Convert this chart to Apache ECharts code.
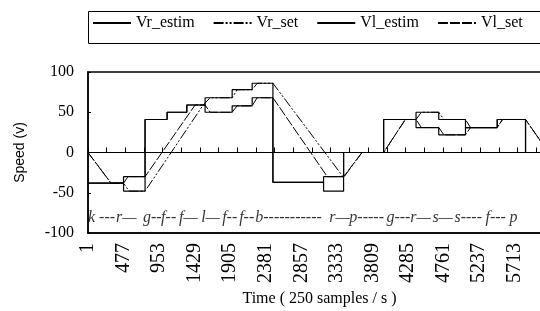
<!DOCTYPE html>
<html>
<head>
<meta charset="utf-8">
<script src="https://cdn.jsdelivr.net/npm/echarts@6/dist/echarts.min.js"></script>
<style>
  html, body { margin: 0; padding: 0; background: #fff; }
  #chart { width: 540px; height: 311px; }
</style>
</head>
<body>
<div id="chart"></div>
<script>
// speed command steps per wheel, [sample, speed]
var stepsR = [[1, -38], [477, -38], [477, -48], [765, -48], [765, 41], [1060, 41], [1060, 50], [1324, 50],
  [1324, 59], [1569, 59], [1569, 68], [1931, 68], [1931, 78], [2199, 78], [2199, 86], [2477, 86],
  [2477, -37], [3155, -37], [3155, -48], [3423, -48], [3423, 0], [3959, 0], [3959, 41], [4393, 41],
  [4393, 50], [4697, 50], [4697, 41], [5055, 41], [5055, 31], [5480, 31], [5480, 41], [5859, 41],
  [5859, 0], [6200, 0]];
var stepsL = [[1, -38], [477, -38], [477, -30], [765, -30], [765, 41], [1060, 41], [1060, 50], [1324, 50],
  [1324, 59], [1569, 59], [1569, 50], [1931, 50], [1931, 58], [2199, 58], [2199, 68], [2477, 68],
  [2477, -37], [3155, -37], [3155, -30], [3423, -30], [3423, 0], [3959, 0], [3959, 41], [4393, 41],
  [4393, 31], [4697, 31], [4697, 22], [5055, 22], [5055, 31], [5480, 31], [5480, 41], [5859, 41],
  [5859, 0], [6200, 0]];
// ramped speeds
var rampR = [[1, 0], [309, -38], [477, -38], [551, -48], [765, -48], [1543, 59], [1569, 59], [1636, 68],
  [1931, 68], [1998, 78], [2199, 78], [2266, 86], [2477, 86], [3423, -31], [3670, 0], [3959, 0],
  [4250, 41], [4393, 41], [4464, 50], [4697, 50], [4766, 41], [5055, 41], [5122, 31], [5480, 31],
  [5551, 41], [5859, 41], [6167, 0]];
var rampL = [[1, 0], [309, -38], [477, -38], [537, -30], [765, -30], [1435, 59], [1569, 59], [1636, 50],
  [1931, 50], [1998, 58], [2199, 58], [2266, 68], [2477, 68], [3205, -30], [3423, -30], [3670, 0],
  [3959, 0], [4250, 41], [4393, 41], [4464, 31], [4697, 31], [4766, 22], [5055, 22], [5122, 31],
  [5480, 31], [5551, 41], [5859, 41], [6167, 0]];

// tick labels on the time axis
var timeLabels = [1, 477, 953, 1429, 1905, 2381, 2857, 3333, 3809, 4285, 4761, 5237, 5713];

// command letters along the bottom
var cmdX = [1, 376, 738, 980, 1221, 1516, 1797, 2025, 2240, 3232, 3500, 3996, 4317, 4612, 4907, 5323, 5645];
var cmdText = ['k ---', 'r—', 'g--', 'f--', 'f—', 'l—', 'f--', 'f--', 'b-----------', 'r—', 'p-----',
  'g---', 'r—', 's—', 's----', 'f---', 'p'];
var cmdY = -81;

var serif = 'Liberation Serif';
var chart = echarts.init(document.getElementById('chart'));

var cmdData = [];
for (var i = 0; i < cmdX.length; i++) {
  cmdData.push({ value: [cmdX[i], cmdY], name: cmdText[i] });
}

chart.setOption({
  animation: false,
  graphic: [{
    // legend frame, runs off the right edge like the original
    type: 'rect',
    left: 86,
    top: 9,
    shape: { width: 480, height: 32 },
    style: { fill: 'none', stroke: '#000', lineWidth: 1 },
    silent: true
  }],
  legend: {
    data: ['Vr_estim', 'Vr_set', 'Vl_estim', 'Vl_set'],
    left: 88,
    top: 11,
    padding: [4, 4],
    itemGap: 18,
    itemWidth: 38,
    itemHeight: 10,
    itemStyle: { color: 'rgba(0,0,0,0)', borderWidth: 0 },
    textStyle: { fontFamily: serif, fontSize: 16, color: '#000' }
  },
  grid: {
    show: true,
    left: 88,
    top: 72,
    right: -11,
    bottom: 78,
    outerBoundsMode: 'none',
    containLabel: false,
    borderColor: '#000',
    borderWidth: 1.5
  },
  xAxis: [{
    type: 'value',
    min: 1,
    max: 6200,
    interval: 476,
    position: 'bottom',
    name: 'Time ( 250 samples / s )',
    nameLocation: 'middle',
    nameGap: 56,
    nameTextStyle: { fontFamily: serif, fontSize: 16, color: '#000' },
    axisLine: { onZero: false, lineStyle: { color: '#000', width: 1.5 } },
    axisTick: { show: false },
    axisLabel: {
      rotate: 90, margin: 10, fontFamily: serif, fontSize: 20, color: '#000',
      formatter: function (v) { return timeLabels.indexOf(v) >= 0 ? String(v) : ''; }
    },
    splitLine: { show: false }
  }, {
    // zero line with a tick every second (250 samples)
    type: 'value',
    min: 0,
    max: 6199,
    interval: 250,
    position: 'top',
    axisLine: { show: true, onZero: true, onZeroAxisIndex: 0, lineStyle: { color: '#000', width: 1 } },
    axisTick: { show: true, inside: false, length: 5, lineStyle: { color: '#000', width: 1 } },
    axisLabel: { show: false },
    splitLine: { show: false }
  }],
  yAxis: {
    type: 'value',
    min: -100,
    max: 100,
    interval: 50,
    name: 'Speed (v)',
    nameLocation: 'middle',
    nameGap: 61,
    nameTextStyle: { fontFamily: 'Liberation Sans', fontSize: 14, color: '#000' },
    axisLine: { onZero: false, lineStyle: { color: '#000', width: 1.5 } },
    axisTick: { inside: true, length: 3, lineStyle: { color: '#000' } },
    axisLabel: { margin: 14, fontFamily: serif, fontSize: 16, color: '#000' },
    splitLine: { show: false }
  },
  series: [{
    name: 'Vr_estim',
    type: 'line',
    data: stepsR,
    symbol: 'none',
    color: '#000',
    lineStyle: { color: '#000', width: 1.2 }
  }, {
    name: 'Vr_set',
    type: 'line',
    data: rampR,
    symbol: 'none',
    color: '#000',
    lineStyle: { color: '#000', width: 1, type: [10, 2, 2, 2, 2, 2] }
  }, {
    name: 'Vl_estim',
    type: 'line',
    data: stepsL,
    symbol: 'none',
    color: '#000',
    lineStyle: { color: '#000', width: 1.2 }
  }, {
    name: 'Vl_set',
    type: 'line',
    data: rampL,
    symbol: 'none',
    color: '#000',
    lineStyle: { color: '#000', width: 1, type: [10, 2] }
  }, {
    name: 'commands',
    type: 'scatter',
    data: cmdData,
    symbolSize: 0,
    silent: true,
    label: {
      show: true,
      position: 'right',
      distance: 0,
      formatter: '{b}',
      fontFamily: serif,
      fontStyle: 'italic',
      fontSize: 16,
      color: '#000'
    }
  }]
});
</script>
</body>
</html>
